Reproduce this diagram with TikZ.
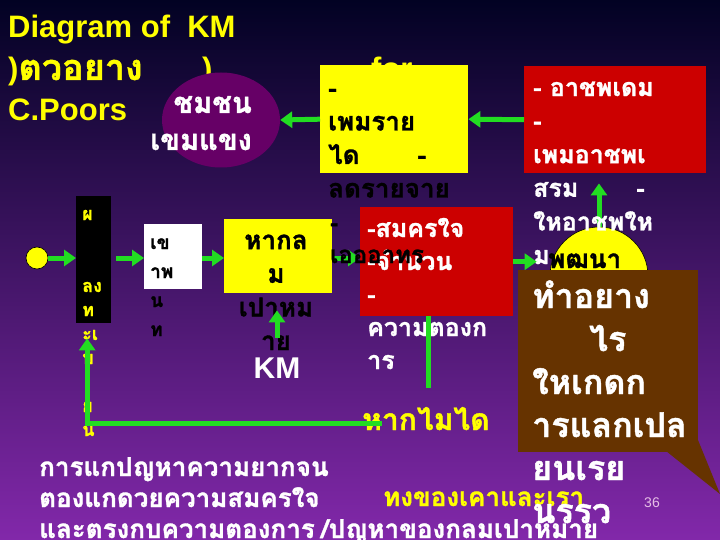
\documentclass[tikz,border=0pt]{standalone}
\usepackage{fontspec}
\setmainfont{Liberation Sans}
\newfontfamily\thai[Script=Thai, BoldFeatures={FakeBold=1.2}]{Loma}
\usetikzlibrary{shapes.geometric,arrows.meta,calc}

\definecolor{kmgreen}{RGB}{34,221,34}
\definecolor{kmyellow}{RGB}{255,255,0}
\definecolor{kmred}{RGB}{204,0,0}
\definecolor{kmpurple}{RGB}{102,0,102}
\definecolor{kmbrown}{RGB}{102,51,0}
\definecolor{kmpage}{RGB}{230,190,230}

\newcommand{\fs}[2]{\fontsize{#1}{#2}\selectfont}

\tikzset{
  arr/.style={draw=kmgreen, line width=5pt, -{Triangle[length=12pt,width=16pt]}},
  gline/.style={draw=kmgreen, line width=5pt},
  box/.style={inner sep=0pt, anchor=north west},
  ttl/.style={font=\bfseries\fs{31}{31}, text=kmyellow, inner sep=0pt, anchor=base west},
  thtxt/.style={inner sep=0pt, align=left, anchor=base west},
}

\begin{document}
\begin{tikzpicture}[x=1pt, y=-1pt]
  \useasboundingbox (0,0) rectangle (720,540);
  \shade[top color={rgb,255:red,2;green,2;blue,35}, middle color={rgb,255:red,25;green,25;blue,180},
         bottom color={rgb,255:red,130;green,40;blue,170}] (0,0) rectangle (720,540);

  % title (multi-line texts are placed at their last baseline)
  \node[ttl] (ttla) at (8,38) {Diagram of~~KM};
  \node[ttl] (ttlb) at (8,80) {){\thai\fs{36}{36}ตวอยาง}};
  \node[ttl] (ttlc) at (202,80) {)};
  \node[ttl] (ttld) at (371,80) {for};
  \node[ttl] (ttle) at (8,121) {C.Poors};

  % community
  \node[ellipse, fill=kmpurple, minimum width=118pt, minimum height=95pt, inner sep=0pt] (cmty) at (221,120) {};
  \node[thtxt, align=right, anchor=base east, text=white, font=\thai\bfseries\fs{29}{37}] (cmtytxt) at (252,150) {ชมชน\\เขมแขง};

  % income and jobs
  \node[box, fill=kmyellow, minimum width=148pt, minimum height=108pt] (income) at (320,65) {};
  \node[thtxt, text=black, font=\thai\bfseries\fs{26}{33.5}] (incometxt) at (328,197.5) {-\\เพมราย\\ได\hspace{58pt}-\\ลดรายจาย};
  \node[box, fill=kmred, minimum width=182pt, minimum height=107pt] (jobs) at (524,66) {};
  \node[circle, fill=kmyellow, draw=black, line width=0.6pt, minimum size=98pt, inner sep=0pt] (devel) at (599,276) {};
  \draw[arr] (income.west) -- (cmty.east);
  \draw[arr] (jobs.west) -- (income.east);
  \draw[arr, shorten >=10pt] (devel.north) -- (devel.north |- jobs.south);
  \node[thtxt, text=white, font=\thai\bfseries\fs{25}{33.6}] (jobstxt) at (533,264) {- อาชพเดม\\-\\เพมอาชพเ\\สรม\hspace{58pt}-\\ใหอาชพให\\ม};
  \node[thtxt, text=black, font=\thai\bfseries\fs{26}{26}] (develtxt) at (548,268) {พฒนา};

  % left chain
  \node[circle, fill=kmyellow, draw=black, line width=0.6pt, minimum size=22pt, inner sep=0pt] (start) at (37,258) {};
  \node[box, fill=black, minimum width=35pt, minimum height=127pt] (regbar) at (76,196) {};
  \node[thtxt, text=kmyellow, font=\thai\bfseries\fs{18}{24}] (regtxt) at (82,436) {ผ\\ \\ \\ลง\\ท\\ะเ\\บ\\ \\ย\\น};
  \node[box, fill=white, minimum width=58pt, minimum height=65pt] (access) at (144,224) {};
  \node[thtxt, text=black, font=\thai\bfseries\fs{19}{29}] (accesstxt) at (150,336) {เข\\าพ\\น\\ท};
  \node[box, fill=kmyellow, minimum width=108pt, minimum height=74pt] (goal) at (224,219) {};
  \node[thtxt, align=center, anchor=base, text=black, font=\thai\bfseries\fs{26}{33.6}] (goaltxt) at (276,350) {หากล\\ม\\เปาหม\\าย};
  \node[font=\bfseries\fs{30}{30}, text=white, inner sep=0pt, anchor=base] (km) at (277,378) {KM};
  \node[box, fill=kmred, minimum width=153pt, minimum height=109pt] (need) at (360,207) {};

  \draw[arr] (start.east) -- (start.east -| regbar.west);
  \draw[arr, shorten <=5pt] (start -| regbar.east) -- (start -| access.west);
  \draw[arr] (start -| access.east) -- (start -| goal.west);
  \draw[arr] (start -| goal.east) -- (start -| need.west);
  \draw[arr, shorten <=19.5pt, shorten >=17pt] (km.north) -- (km.north |- goal.south);
  \draw[arr, shorten >=13pt] (need.east) -- (need.east -| devel.west);

  \node[thtxt, text=white, font=\thai\bfseries\fs{25}{33}] (needtxt) at (367,369) {-สมครใจ\\-จำนวน\\-\\ความตองก\\าร};
  \node[thtxt, text=black, font=\thai\bfseries\fs{24}{32}] (caretxt) at (330,263) {-\\เอออาทร};

  % feedback
  \node[thtxt, text=kmyellow, font=\thai\bfseries\fs{30}{30}] (ifnot) at (362,430) {หากไมได};
  \draw[gline] ([xshift=-8.5pt]need.south) -- ++(0,72);
  \draw[arr, shorten >=15pt] ([xshift=20pt,yshift=7pt]ifnot.base west) -| ([xshift=-6.5pt]regbar.south);

  % bottom text
  \node[thtxt, text=white, font=\thai\bfseries\fs{26}{31}] (concl) at (39,538) {การแกปญหาความยากจน\\ตองแกดวยความสมครใจ\\และตรงกบความตองการ};
  \node[thtxt, text=kmyellow, font=\thai\bfseries\fs{26}{31}] (both) at (383,506) {ทงของเคาและเรา};
  \node[thtxt, text=white, font=\thai\bfseries\fs{26}{31}] (probs) at (321,538) {/ปญหาของกลมเปาหมาย};
  \node[font=\fs{14}{14}, text=kmpage, inner sep=0pt, anchor=base] (pgno) at (652,507) {36};

  % callout
  \node[box, fill=kmbrown, minimum width=180pt, minimum height=182pt] (howto) at (518,270) {};
  \fill[kmbrown] (666,451) -- (720,494) -- (698,440) -- cycle;
  \node[thtxt, text=white, font=\thai\bfseries\fs{34}{43}] (howtotxt) at (532,523) {ทำอยาง\\\hspace*{57pt}ไร\\ใหเกดก\\ารแลกเปล\\ยนเรย\\นรรว};
\end{tikzpicture}
\end{document}
